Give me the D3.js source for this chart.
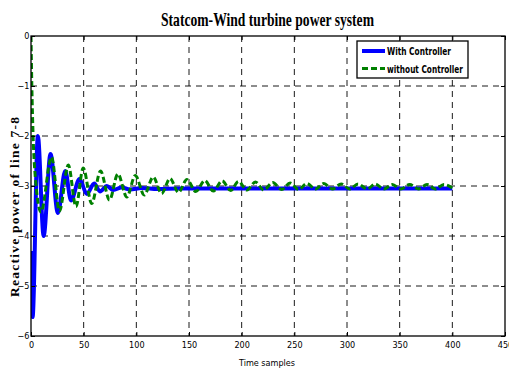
<!DOCTYPE html>
<html>
<head>
<meta charset="utf-8">
<script src="https://cdn.jsdelivr.net/npm/d3@7"></script>
<style>
  body { margin: 0; background: #fff; }
  svg { display: block; }
  .tick text { font-family: "Liberation Sans Narrow", "DejaVu Sans Condensed", "Liberation Sans", sans-serif; font-stretch: condensed; font-size: 9px; fill: #000; }
</style>
</head>
<body>
<div id="chart"></div>
<script>
/* DATA (sample index / reactive power) */
var xTicks = [0, 50, 100, 150, 200, 250, 300, 350, 400, 450];
var yTicks = [0, -1, -2, -3, -4, -5, -6];

// With Controller: turning points, then flat
var blueSamples = [0, 1.5, 6.5, 12, 18.5, 25.5, 32.5, 38, 46, 53, 60, 65.5, 72, 78, 86, 94, 105, 120, 140, 400];
var blueValues  = [-4.3, -5.62, -2.0, -4.0, -2.36, -3.54, -2.7, -3.29, -2.86, -3.16, -2.95, -3.11, -3.0, -3.08, -3.03, -3.07, -3.04, -3.06, -3.05, -3.05];

// without Controller: turning points of the slower oscillation
var greenSamples = [0, 0.8, 2, 4, 9.5, 19.5, 27, 35.4, 42.7, 49.6, 57.6, 66, 74.5, 82.5, 91, 99, 107.5, 116, 124, 132, 140,
  148, 156.5, 165, 173, 181.5, 189.5, 197, 205, 213, 221, 229.5, 238, 246, 254, 262, 270, 278, 286, 294.5, 302.5,
  310.5, 319, 327, 335, 343, 351, 359.5, 368, 376, 384, 392, 400];
var greenValues  = [0, -1.0, -2.0, -2.8, -3.52, -2.42, -3.5, -2.58, -3.41, -2.64, -3.35, -2.7, -3.28, -2.76, -3.22, -2.79, -3.18, -2.82, -3.15, -2.85, -3.13,
  -2.87, -3.11, -2.89, -3.1, -2.9, -3.09, -2.91, -3.08, -2.92, -3.08, -2.93, -3.07, -2.94, -3.07, -2.95, -3.06, -2.95, -3.06, -2.96, -3.06,
  -2.96, -3.06, -2.96, -3.06, -2.97, -3.06, -2.97, -3.06, -2.97, -3.06, -2.97, -3.04];

/* SETUP */
var width = 509;
var height = 370;
var plotL = 31, plotR = 505, plotT = 36, plotB = 336;

var svg = d3.select("#chart")
  .append("svg")
  .attr("width", width)
  .attr("height", height);

var x = d3.scaleLinear().domain([0, 450]).range([plotL, plotR]);
var y = d3.scaleLinear().domain([-6, 0]).range([plotB, plotT]);

svg.append("clipPath").attr("id", "plot")
  .append("rect")
  .attr("x", plotL).attr("y", plotT)
  .attr("width", plotR - plotL).attr("height", plotB - plotT);

// dashed grid
var grid = svg.append("g")
  .attr("stroke", "#000")
  .attr("stroke-width", 0.9)
  .attr("stroke-dasharray", "6,5");

grid.selectAll(".vg")
  .data(xTicks.slice(1, -1))
  .enter()
  .append("line")
  .attr("x1", function(d) { return x(d); })
  .attr("x2", function(d) { return x(d); })
  .attr("y1", plotT)
  .attr("y2", plotB);

grid.selectAll(".hg")
  .data(yTicks.slice(1, -1))
  .enter()
  .append("line")
  .attr("x1", plotL)
  .attr("x2", plotR)
  .attr("y1", function(d) { return y(d); })
  .attr("y2", function(d) { return y(d); });

// series
var blueData = blueSamples.map(function(d, i) { return [d, blueValues[i]]; });
var greenData = greenSamples.map(function(d, i) { return [d, greenValues[i]]; });

var line = d3.line()
  .x(function(d) { return x(d[0]); })
  .y(function(d) { return y(d[1]); })
  .curve(d3.curveMonotoneX);

var series = svg.append("g").attr("clip-path", "url(#plot)");

series.append("path")
  .datum(blueData)
  .attr("d", line)
  .attr("fill", "none")
  .attr("stroke", "#0000ff")
  .attr("stroke-width", 4);

series.append("path")
  .datum(greenData)
  .attr("d", line)
  .attr("fill", "none")
  .attr("stroke", "#008000")
  .attr("stroke-width", 3)
  .attr("stroke-dasharray", "6,3");

// axes, MATLAB style ticks pointing inward
svg.append("g")
  .attr("transform", "translate(0," + plotB + ")")
  .call(d3.axisBottom(x).tickValues(xTicks).tickSize(-4).tickSizeOuter(0).tickPadding(6))
  .call(function(g) { g.select(".domain").remove(); });

svg.append("g")
  .attr("transform", "translate(0," + plotT + ")")
  .call(d3.axisTop(x).tickValues(xTicks).tickSize(-4).tickSizeOuter(0).tickFormat(""))
  .call(function(g) { g.select(".domain").remove(); });

svg.append("g")
  .attr("transform", "translate(" + plotL + ",0)")
  .call(d3.axisLeft(y).tickValues(yTicks).tickFormat(d3.format("d")).tickSize(-4).tickSizeOuter(0).tickPadding(1.5))
  .call(function(g) { g.select(".domain").remove(); })
  .call(function(g) { g.selectAll(".tick text").attr("font-size", 8.5); });

svg.append("g")
  .attr("transform", "translate(" + plotR + ",0)")
  .call(d3.axisRight(y).tickValues(yTicks).tickSize(-4).tickSizeOuter(0).tickFormat(""))
  .call(function(g) { g.select(".domain").remove(); });

svg.append("rect")
  .attr("x", plotL).attr("y", plotT)
  .attr("width", plotR - plotL).attr("height", plotB - plotT)
  .attr("fill", "none")
  .attr("stroke", "#000")
  .attr("stroke-width", 1.3);

// texts
svg.append("text")
  .attr("x", 267.5)
  .attr("y", 26)
  .attr("text-anchor", "middle")
  .attr("font-family", "Liberation Serif, Times New Roman, serif")
  .attr("font-weight", "bold")
  .attr("font-size", 19)
  .attr("textLength", 213)
  .attr("lengthAdjust", "spacingAndGlyphs")
  .text("Statcom-Wind turbine power system");

svg.append("text")
  .attr("x", 267)
  .attr("y", 366)
  .attr("text-anchor", "middle")
  .attr("font-family", "Liberation Sans Narrow, DejaVu Sans Condensed, sans-serif")
  .attr("font-stretch", "condensed")
  .attr("font-size", 9)
  .text("Time samples");

svg.append("text")
  .attr("transform", "translate(19,207) rotate(-90)")
  .attr("text-anchor", "middle")
  .attr("font-family", "Liberation Serif, Times New Roman, serif")
  .attr("font-weight", "bold")
  .attr("font-size", 13.5)
  .attr("textLength", 180)
  .attr("lengthAdjust", "spacing")
  .text("Reactive power of line 7-8");

// legend
var legend = svg.append("g");

legend.append("rect")
  .attr("x", 357).attr("y", 41)
  .attr("width", 111).attr("height", 37)
  .attr("fill", "#fff")
  .attr("stroke", "#000")
  .attr("stroke-width", 1.3);

legend.append("line")
  .attr("x1", 362).attr("x2", 385)
  .attr("y1", 51).attr("y2", 51)
  .attr("stroke", "#0000ff")
  .attr("stroke-width", 4);

legend.append("line")
  .attr("x1", 362).attr("x2", 385)
  .attr("y1", 68.5).attr("y2", 68.5)
  .attr("stroke", "#008000")
  .attr("stroke-width", 3)
  .attr("stroke-dasharray", "6,3");

legend.selectAll(".lt")
  .data(["With Controller", "without Controller"])
  .enter()
  .append("text")
  .attr("x", 387)
  .attr("y", function(d, i) { return 55 + i * 17.5; })
  .attr("font-family", "Liberation Sans Narrow, DejaVu Sans Condensed, sans-serif")
  .attr("font-stretch", "condensed")
  .attr("font-weight", "bold")
  .attr("font-size", 11)
  .attr("textLength", function(d, i) { return i ? 76 : 64; })
  .attr("lengthAdjust", "spacingAndGlyphs")
  .text(function(d) { return d; });
</script>
</body>
</html>
